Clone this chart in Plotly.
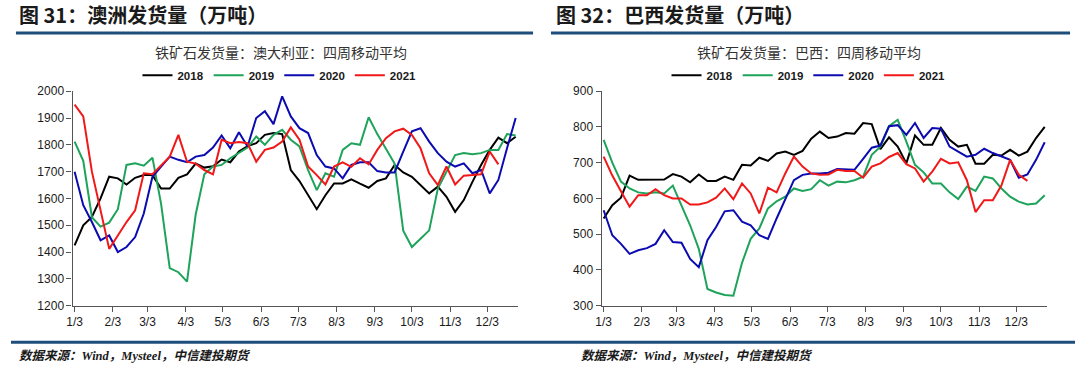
import pandas as pd
import plotly.graph_objects as go

# ---------------- data ----------------
weeks = list(pd.date_range("2021-01-03", periods=52, freq="7D"))
tick_vals = [f"2021-{m:02d}-03" for m in range(1, 13)]
tick_text = ["1/3", "2/3", "3/3", "4/3", "5/3", "6/3", "7/3", "8/3", "9/3", "10/3", "11/3", "12/3"]
years = ["2018", "2019", "2020", "2021"]

aus_2018 = [1425, 1500, 1531, 1600, 1681, 1675, 1652, 1677, 1687, 1687, 1637, 1637, 1677,
            1690, 1730, 1715, 1720, 1745, 1735, 1775, 1795, 1806, 1837, 1844, 1840, 1706,
            1665, 1612, 1560, 1612, 1656, 1656, 1671, 1655, 1640, 1665, 1675, 1725, 1697,
            1681, 1650, 1619, 1644, 1606, 1550, 1594, 1662, 1725, 1781, 1827, 1806, 1830]
aus_2019 = [1812, 1740, 1530, 1495, 1510, 1560, 1725, 1731, 1722, 1752, 1580, 1340, 1325,
            1290, 1540, 1690, 1719, 1725, 1750, 1769, 1790, 1831, 1800, 1837, 1856, 1819,
            1794, 1706, 1631, 1694, 1681, 1781, 1806, 1800, 1903, 1840, 1785, 1730, 1480,
            1419, 1450, 1481, 1637, 1700, 1762, 1769, 1765, 1769, 1781, 1781, 1840, 1835]
aus_2020 = [1700, 1575, 1512, 1444, 1462, 1400, 1419, 1456, 1544, 1681, 1719, 1756, 1744,
            1735, 1756, 1762, 1790, 1835, 1787, 1847, 1794, 1900, 1925, 1877, 1981, 1906,
            1862, 1844, 1762, 1719, 1712, 1675, 1725, 1735, 1735, 1702, 1697, 1697, 1775,
            1850, 1862, 1812, 1769, 1737, 1719, 1731, 1694, 1706, 1619, 1669, 1787, 1900]
aus_2021 = [1950, 1906, 1700, 1550, 1412, 1462, 1512, 1556, 1694, 1690, 1725, 1756, 1837,
            1737, 1730, 1706, 1690, 1819, 1806, 1810, 1806, 1737, 1781, 1790, 1812, 1865,
            1819, 1719, 1687, 1652, 1719, 1735, 1718, 1750, 1727, 1781, 1825, 1850, 1860,
            1837, 1787, 1694, 1650, 1719, 1652, 1685, 1687, 1690, 1775, 1727]

bra_2018 = [544, 581, 602, 664, 652, 652, 653, 653, 668, 661, 645, 667, 649, 649, 661, 652,
            694, 692, 714, 705, 726, 731, 722, 733, 767, 787, 769, 773, 783, 781, 811, 808,
            738, 771, 745, 698, 776, 750, 750, 797, 764, 745, 750, 697, 697, 722, 720, 736,
            720, 731, 769, 800]
bra_2019 = [764, 700, 647, 628, 617, 614, 617, 614, 636, 581, 525, 459, 347, 337, 330, 328,
            420, 487, 516, 572, 592, 605, 628, 621, 626, 651, 636, 647, 645, 651, 661, 722,
            745, 802, 820, 759, 694, 673, 642, 642, 617, 598, 633, 621, 661, 656, 628, 605,
            591, 583, 586, 609]
bra_2020 = [567, 497, 473, 445, 455, 461, 473, 511, 478, 476, 431, 408, 483, 520, 564, 567,
            535, 525, 497, 487, 544, 600, 651, 666, 670, 670, 672, 682, 682, 680, 711, 742,
            748, 802, 805, 778, 811, 769, 797, 795, 745, 731, 717, 722, 739, 727, 717, 708,
            658, 667, 708, 757]
bra_2021 = [717, 664, 620, 577, 609, 609, 626, 609, 600, 600, 583, 583, 589, 602, 628, 598,
            642, 614, 558, 630, 617, 670, 717, 689, 670, 666, 667, 680, 677, 677, 658, 689,
            698, 716, 727, 696, 684, 647, 675, 711, 698, 701, 651, 562, 595, 595, 637, 708,
            666, 649]

colors = {"2018": "#000000", "2019": "#1ea35a", "2020": "#0b0bb0", "2021": "#f01818"}

# ---------------- figure ----------------
W, H = 1080, 369


def px(x):
    return x / W


def py(y):
    return (H - y) / H


fig = go.Figure()
aus = {"2018": aus_2018, "2019": aus_2019, "2020": aus_2020, "2021": aus_2021}
bra = {"2018": bra_2018, "2019": bra_2019, "2020": bra_2020, "2021": bra_2021}
for yr in years:
    fig.add_trace(go.Scatter(x=weeks[:len(aus[yr])], y=aus[yr], mode="lines", name=yr,
                             line=dict(color=colors[yr], width=2), xaxis="x", yaxis="y",
                             legend="legend"))
for yr in years:
    fig.add_trace(go.Scatter(x=weeks[:len(bra[yr])], y=bra[yr], mode="lines", name=yr,
                             line=dict(color=colors[yr], width=2), xaxis="x2", yaxis="y2",
                             legend="legend2"))

tickfont = dict(family="Liberation Sans, Arial, sans-serif", size=12, color="#1a1a1a")
xrange = ["2021-01-01 09:36", "2021-12-28 00:00"]
ydom = [py(310.5), py(87.5)]

axis_common = dict(showgrid=False, zeroline=False, showline=True, linecolor="#555555",
                   linewidth=1.3, ticks="outside", ticklen=5, tickcolor="#555555",
                   tickwidth=1.2, tickfont=tickfont)

legend_font = dict(family="Liberation Sans, Arial, sans-serif", size=11.5, color="#1a1a1a",
                   weight="bold")

fig.update_layout(
    width=W, height=H, margin=dict(l=0, r=0, t=0, b=0),
    paper_bgcolor="white", plot_bgcolor="white",
    xaxis=dict(domain=[px(67), px(515)], type="date", range=xrange, tickvals=tick_vals,
               ticktext=tick_text, anchor="y", **axis_common),
    yaxis=dict(domain=ydom, range=[1200, 2000], dtick=100, tick0=1200, anchor="x",
               **axis_common),
    xaxis2=dict(domain=[px(599), px(1047)], type="date", range=xrange, tickvals=tick_vals,
                ticktext=tick_text, anchor="y2", **axis_common),
    yaxis2=dict(domain=ydom, range=[300, 900], dtick=100, tick0=300, anchor="x2",
                **axis_common),
    legend=dict(orientation="h", x=px(275), y=py(71), xanchor="center", yanchor="middle",
                bgcolor="rgba(0,0,0,0)", font=legend_font, itemwidth=30),
    legend2=dict(orientation="h", x=px(807), y=py(71), xanchor="center", yanchor="middle",
                 bgcolor="rgba(0,0,0,0)", font=legend_font, itemwidth=30),
    showlegend=True,
)

rule_color = "#1d4e7b"
shapes = [
    dict(type="line", xref="paper", yref="paper", x0=px(10), x1=px(530), y0=py(27), y1=py(27),
         line=dict(color=rule_color, width=3)),
    dict(type="line", xref="paper", yref="paper", x0=px(548), x1=px(1070), y0=py(27), y1=py(27),
         line=dict(color=rule_color, width=3)),
    dict(type="line", xref="paper", yref="paper", x0=px(5), x1=px(1075), y0=py(348.5), y1=py(348.5),
         line=dict(color=rule_color, width=3)),
]
fig.update_layout(shapes=shapes)

title_font = dict(family="Noto Sans CJK SC, sans-serif", size=20, color="#1a1a1a", weight="bold")
sub_font = dict(family="Noto Sans CJK SC, sans-serif", size=14, color="#333333")
src_font = dict(family="Liberation Serif, Noto Sans CJK SC, serif", size=12.5, color="#1a1a1a",
                weight="bold", style="italic")

annotations = [
    dict(text="图 31：澳洲发货量（万吨）", x=px(11), y=py(7.5), xanchor="left", yanchor="middle",
         font=title_font),
    dict(text="图 32：巴西发货量（万吨）", x=px(551), y=py(7.5), xanchor="left", yanchor="middle",
         font=title_font),
    dict(text="铁矿石发货量：澳大利亚：四周移动平均", x=px(277), y=py(47), xanchor="center",
         yanchor="middle", font=sub_font),
    dict(text="铁矿石发货量：巴西：四周移动平均", x=px(807), y=py(47), xanchor="center",
         yanchor="middle", font=sub_font),
    dict(text="数据来源：Wind，Mysteel，中信建投期货", x=px(11), y=py(363), xanchor="left",
         yanchor="middle", font=src_font),
    dict(text="数据来源：Wind，Mysteel，中信建投期货", x=px(576), y=py(363), xanchor="left",
         yanchor="middle", font=src_font),
]
for a in annotations:
    a.update(xref="paper", yref="paper", showarrow=False)
fig.update_layout(annotations=annotations)

fig.write_html("out.html", config={"displayModeBar": False},
               post_script="document.body.style.margin='0';document.body.style.padding='0';")
